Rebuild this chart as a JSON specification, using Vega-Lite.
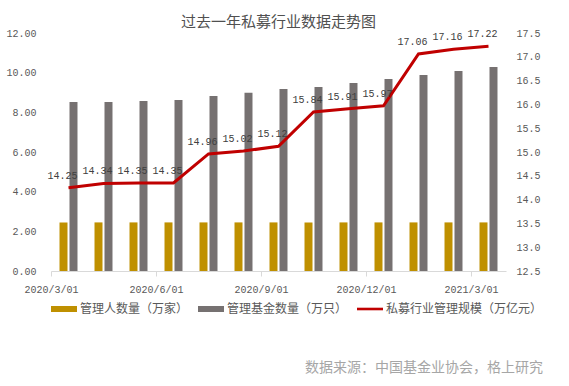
{
  "$schema": "https://vega.github.io/schema/vega-lite/v6.json",
  "background": "white",
  "padding": {"left": 5, "right": 5, "top": 15, "bottom": 5},
  "title": {"text": "数据来源：中国基金业协会，格上研究", "orient": "bottom", "anchor": "end", "font": "Noto Sans CJK SC", "fontSize": 14, "fontWeight": "normal", "color": "#a6a6a6", "offset": 46},
  "config": {"view": {"stroke": null}, "concat": {"spacing": 0}},
  "vconcat": [
    {
      "width": 455,
      "height": 238,
      "title": {"text": "过去一年私募行业数据走势图", "font": "Noto Sans CJK SC", "fontSize": 15, "fontWeight": "normal", "color": "#505050", "anchor": "middle", "offset": -2},
      "data": {"values": [
        {"date": "2020/3/01", "series": "管理人数量（万家）", "value": 2.45},
        {"date": "2020/4/01", "series": "管理人数量（万家）", "value": 2.45},
        {"date": "2020/5/01", "series": "管理人数量（万家）", "value": 2.45},
        {"date": "2020/6/01", "series": "管理人数量（万家）", "value": 2.45},
        {"date": "2020/7/01", "series": "管理人数量（万家）", "value": 2.45},
        {"date": "2020/8/01", "series": "管理人数量（万家）", "value": 2.45},
        {"date": "2020/9/01", "series": "管理人数量（万家）", "value": 2.45},
        {"date": "2020/10/01", "series": "管理人数量（万家）", "value": 2.45},
        {"date": "2020/11/01", "series": "管理人数量（万家）", "value": 2.45},
        {"date": "2020/12/01", "series": "管理人数量（万家）", "value": 2.45},
        {"date": "2021/1/01", "series": "管理人数量（万家）", "value": 2.45},
        {"date": "2021/2/01", "series": "管理人数量（万家）", "value": 2.45},
        {"date": "2021/3/01", "series": "管理人数量（万家）", "value": 2.45},
        {"date": "2020/3/01", "series": "管理基金数量（万只）", "value": 8.52},
        {"date": "2020/4/01", "series": "管理基金数量（万只）", "value": 8.52},
        {"date": "2020/5/01", "series": "管理基金数量（万只）", "value": 8.57},
        {"date": "2020/6/01", "series": "管理基金数量（万只）", "value": 8.62},
        {"date": "2020/7/01", "series": "管理基金数量（万只）", "value": 8.82},
        {"date": "2020/8/01", "series": "管理基金数量（万只）", "value": 8.99},
        {"date": "2020/9/01", "series": "管理基金数量（万只）", "value": 9.18},
        {"date": "2020/10/01", "series": "管理基金数量（万只）", "value": 9.28},
        {"date": "2020/11/01", "series": "管理基金数量（万只）", "value": 9.48},
        {"date": "2020/12/01", "series": "管理基金数量（万只）", "value": 9.68},
        {"date": "2021/1/01", "series": "管理基金数量（万只）", "value": 9.88},
        {"date": "2021/2/01", "series": "管理基金数量（万只）", "value": 10.08},
        {"date": "2021/3/01", "series": "管理基金数量（万只）", "value": 10.28},
        {"date": "2020/3/01", "series": "私募行业管理规模（万亿元）", "value": 14.25},
        {"date": "2020/4/01", "series": "私募行业管理规模（万亿元）", "value": 14.34},
        {"date": "2020/5/01", "series": "私募行业管理规模（万亿元）", "value": 14.35},
        {"date": "2020/6/01", "series": "私募行业管理规模（万亿元）", "value": 14.35},
        {"date": "2020/7/01", "series": "私募行业管理规模（万亿元）", "value": 14.96},
        {"date": "2020/8/01", "series": "私募行业管理规模（万亿元）", "value": 15.02},
        {"date": "2020/9/01", "series": "私募行业管理规模（万亿元）", "value": 15.12},
        {"date": "2020/10/01", "series": "私募行业管理规模（万亿元）", "value": 15.84},
        {"date": "2020/11/01", "series": "私募行业管理规模（万亿元）", "value": 15.91},
        {"date": "2020/12/01", "series": "私募行业管理规模（万亿元）", "value": 15.97},
        {"date": "2021/1/01", "series": "私募行业管理规模（万亿元）", "value": 17.06},
        {"date": "2021/2/01", "series": "私募行业管理规模（万亿元）", "value": 17.16},
        {"date": "2021/3/01", "series": "私募行业管理规模（万亿元）", "value": 17.22}
      ]},
      "encoding": {
        "x": {
          "field": "date", "type": "ordinal", "sort": null,
          "scale": {"paddingInner": 0.486, "paddingOuter": 0.243},
          "axis": {
            "title": null,
            "values": ["2020/3/01", "2020/6/01", "2020/9/01", "2020/12/01", "2021/3/01"],
            "labelAngle": 0,
            "labelFont": "Liberation Mono", "labelFontSize": 10, "labelColor": "#595959",
            "labelPadding": 8,
            "domainColor": "#d9d9d9", "tickColor": "#d9d9d9", "tickSize": 5, "tickOffset": -17.5
          }
        }
      },
      "layer": [
        {
          "transform": [{"filter": "datum.series !== '私募行业管理规模（万亿元）'"}],
          "mark": {"type": "bar"},
          "encoding": {
            "xOffset": {"field": "series", "sort": ["管理人数量（万家）", "管理基金数量（万只）"], "scale": {"paddingInner": 0.2, "paddingOuter": 0}},
            "y": {
              "field": "value", "type": "quantitative",
              "scale": {"domain": [0, 12], "nice": false},
              "axis": {"title": null, "values": [0, 2, 4, 6, 8, 10, 12], "format": ".2f", "grid": false, "domain": false, "ticks": false, "labelPadding": 15, "labelFont": "Liberation Mono", "labelFontSize": 10, "labelColor": "#595959"}
            },
            "color": {
              "field": "series", "type": "nominal",
              "scale": {"domain": ["管理人数量（万家）", "管理基金数量（万只）", "私募行业管理规模（万亿元）"], "range": ["#BF9000", "#767171", "#C00000"]},
              "legend": {
                "orient": "bottom", "direction": "horizontal", "title": null,
                "symbolType": "M-1,-0.23H1V0.23H-1Z", "symbolSize": 676, "symbolStrokeWidth": 0,
                "labelFont": "Noto Sans CJK SC", "labelFontSize": 12, "labelColor": "#595959",
                "columnPadding": 9, "labelOffset": 3, "offset": 2,
                "encode": {"symbols": {"update": {
                  "shape": {"signal": "datum.value === '私募行业管理规模（万亿元）' ? 'M-1,-0.1H1V0.1H-1Z' : 'M-1,-0.23H1V0.23H-1Z'"},
                  "fill": {"signal": "datum.value === '私募行业管理规模（万亿元）' ? '#C00000' : (datum.value === '管理人数量（万家）' ? '#BF9000' : '#767171')"},
                  "strokeWidth": {"value": 0},
                  "opacity": {"value": 1}
                }}}
              }
            }
          }
        },
        {
          "transform": [{"filter": "datum.series === '私募行业管理规模（万亿元）'"}],
          "encoding": {
            "y": {
              "field": "value", "type": "quantitative",
              "scale": {"domain": [12.5, 17.5], "nice": false, "zero": false},
              "axis": {"title": null, "orient": "right", "values": [12.5, 13, 13.5, 14, 14.5, 15, 15.5, 16, 16.5, 17, 17.5], "format": ".1f", "grid": false, "domain": false, "ticks": false, "labelPadding": 10, "labelFont": "Liberation Mono", "labelFontSize": 10, "labelColor": "#595959"}
            }
          },
          "layer": [
            {
              "mark": {"type": "line", "strokeWidth": 3},
              "encoding": {"color": {"field": "series", "type": "nominal"}}
            },
            {
              "mark": {"type": "text", "dx": -6, "dy": -12, "font": "Liberation Mono", "fontSize": 10, "color": "#404040"},
              "encoding": {"text": {"field": "value", "type": "quantitative", "format": ".2f"}}
            }
          ]
        }
      ],
      "resolve": {"scale": {"y": "independent"}}
    }
  ]
}
